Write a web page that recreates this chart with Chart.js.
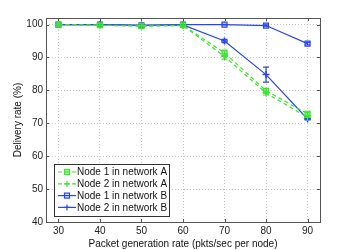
<!DOCTYPE html>
<html><head><meta charset="utf-8">
<script src="https://cdn.jsdelivr.net/npm/chart.js@4/dist/chart.umd.min.js"></script>
<style>html,body{margin:0;padding:0;background:#fff}#wrap{width:354px;height:250px}</style>
</head><body><div id="wrap"><canvas id="c" width="354" height="250"></canvas></div>
<script>
const rates = [30, 40, 50, 60, 70, 80, 90];
const node1A = [100, 99.8, 99.5, 99.8, 91.4, 79.9, 72.9];
const node2A = [100, 99.8, 99.6, 99.7, 90.3, 79.2, 71.8];
const node1B = [100, 100, 99.8, 100, 100, 99.7, 94.2];
const node2B = [100, 100, 99.8, 99.9, 95.0, 84.8, 71.3];
const err1A = [0, 0.1, 0.2, 0.1, 0.8, 0.6, 0.5];
const err2A = [0, 0.1, 0.2, 0.1, 0.8, 0.6, 0.5];
const err1B = [0, 0, 0.1, 0, 0.1, 0.2, 0.4];
const err2B = [0, 0, 0.1, 0.1, 0.5, 2.3, 0.3];
const xTicks = [30, 40, 50, 60, 70, 80, 90];
const yTicks = [40, 50, 60, 70, 80, 90, 100];
const seriesNames = ['Node 1 in network A', 'Node 2 in network A', 'Node 1 in network B', 'Node 2 in network B'];

const GREEN = '#3de62e';
const BLUE = '#2a45f0';
const FONT = '"Liberation Sans", Arial, sans-serif';

function pts(v){ return rates.map((x,i)=>({x:x, y:v[i]})); }

const datasets = [
  {label: seriesNames[0], data: pts(node1A), err: err1A, borderColor: GREEN, backgroundColor: 'rgba(61,230,46,0.5)', borderDash:[4,3], borderWidth:1.2, pointStyle:'rect', pointRadius:3.5, pointBorderWidth:1.2},
  {label: seriesNames[1], data: pts(node2A), err: err2A, borderColor: GREEN, backgroundColor: GREEN, borderDash:[4,3], borderWidth:1.2, pointStyle:'cross', pointRadius:3.5, pointBorderWidth:1.2},
  {label: seriesNames[2], data: pts(node1B), err: err1B, borderColor: BLUE, backgroundColor: 'rgba(42,69,240,0.15)', borderWidth:1.2, pointStyle:'rect', pointRadius:3.5, pointBorderWidth:1.2},
  {label: seriesNames[3], data: pts(node2B), err: err2B, borderColor: BLUE, backgroundColor: BLUE, borderWidth:1.2, pointStyle:'cross', pointRadius:3.5, pointBorderWidth:1.5}
];

const deco = {
  id: 'deco',
  beforeDatasetsDraw(chart){
    const ctx = chart.ctx, xs = chart.scales.x, ys = chart.scales.y;
    ctx.save();
    chart.data.datasets.forEach(ds=>{
      ctx.strokeStyle = ds.borderColor; ctx.lineWidth = 1.2; ctx.setLineDash([]);
      ds.data.forEach((p,i)=>{
        const e = ds.err[i]; if(!e) return;
        const px = xs.getPixelForValue(p.x);
        const y1 = ys.getPixelForValue(p.y+e), y2 = ys.getPixelForValue(p.y-e);
        ctx.beginPath();
        ctx.moveTo(px,y1); ctx.lineTo(px,y2);
        ctx.moveTo(px-3,y1); ctx.lineTo(px+3,y1);
        ctx.moveTo(px-3,y2); ctx.lineTo(px+3,y2);
        ctx.stroke();
      });
    });
    ctx.restore();
  },
  afterDraw(chart){
    const ctx = chart.ctx, a = chart.chartArea, xs = chart.scales.x, ys = chart.scales.y;
    ctx.save();
    ctx.strokeStyle = '#555'; ctx.lineWidth = 1; ctx.setLineDash([]);
    ctx.strokeRect(Math.round(a.left)+0.5, Math.round(a.top)+0.5, Math.round(a.right-a.left), Math.round(a.bottom-a.top));
    ctx.beginPath();
    xTicks.forEach(v=>{ const px = Math.round(xs.getPixelForValue(v))+0.5;
      ctx.moveTo(px,a.bottom); ctx.lineTo(px,a.bottom-3); ctx.moveTo(px,a.top); ctx.lineTo(px,a.top+3); });
    yTicks.forEach(v=>{ const py = Math.round(ys.getPixelForValue(v))+0.5;
      ctx.moveTo(a.left,py); ctx.lineTo(a.left+3,py); ctx.moveTo(a.right,py); ctx.lineTo(a.right-3,py); });
    ctx.stroke();
    // legend
    const lx = 54, ly = 164, lw = 115, lh = 52;
    ctx.fillStyle = '#fff'; ctx.fillRect(lx, ly, lw, lh);
    ctx.strokeStyle = '#333'; ctx.strokeRect(lx+0.5, ly+0.5, lw, lh);
    ctx.font = '10px ' + FONT; ctx.textBaseline = 'middle'; ctx.fillStyle = '#111';
    chart.data.datasets.forEach((ds,i)=>{
      const cy = ly + 8 + i*11.8;
      ctx.strokeStyle = ds.borderColor; ctx.lineWidth = 1.2;
      ctx.setLineDash(ds.borderDash||[]);
      ctx.beginPath(); ctx.moveTo(lx+4, cy); ctx.lineTo(lx+22, cy); ctx.stroke();
      ctx.setLineDash([]);
      const mx = lx+13;
      ctx.beginPath();
      if(ds.pointStyle==='rect'){ ctx.fillStyle = ds.backgroundColor; ctx.fillRect(mx-2.5,cy-2.5,5,5); ctx.strokeRect(mx-2.5,cy-2.5,5,5); }
      else { ctx.moveTo(mx-3,cy); ctx.lineTo(mx+3,cy); ctx.moveTo(mx,cy-3); ctx.lineTo(mx,cy+3); ctx.stroke(); }
      ctx.fillStyle = '#111';
      ctx.fillText(ds.label, lx+23, cy+0.5);
    });
    ctx.restore();
  }
};

new Chart(document.getElementById('c'), {
  type: 'line',
  data: {datasets},
  options: {
    responsive: false, animation: false, devicePixelRatio: 1,
    layout: {padding: {top: 18, right: 34, left: 0, bottom: 0}},
    plugins: {legend: {display: false}, tooltip: {enabled: false}},
    elements: {line: {tension: 0}},
    scales: {
      x: {type: 'linear', min: 27, max: 93,
        afterBuildTicks(s){ s.ticks = xTicks.map(v=>({value:v})); },
        afterFit(s){ s.height = 28; },
        grid: {color: '#c8c8c8', borderDash: [1,2], drawTicks: false, lineWidth: 1},
        border: {display: false, dash:[1,2]},
        ticks: {color: '#222', font: {family: FONT, size: 10}, padding: 3, maxRotation: 0},
        title: {display: true, text: 'Packet generation rate (pkts/sec per node)', color: '#111', font: {family: FONT, size: 10}, padding: {top: 0, bottom: 0}}
      },
      y: {min: 40, max: 102,
        afterBuildTicks(s){ s.ticks = yTicks.map(v=>({value:v})); },
        afterFit(s){ s.width = 46; },
        grid: {color: '#c8c8c8', borderDash: [1,2], drawTicks: false, lineWidth: 1},
        border: {display: false, dash:[1,2]},
        ticks: {color: '#222', font: {family: FONT, size: 10}, padding: 3},
        title: {display: true, text: 'Delivery rate (%)', color: '#111', font: {family: FONT, size: 10}, padding: {top: 12, bottom: 0}}
      }
    }
  },
  plugins: [deco]
});
</script></body></html>
